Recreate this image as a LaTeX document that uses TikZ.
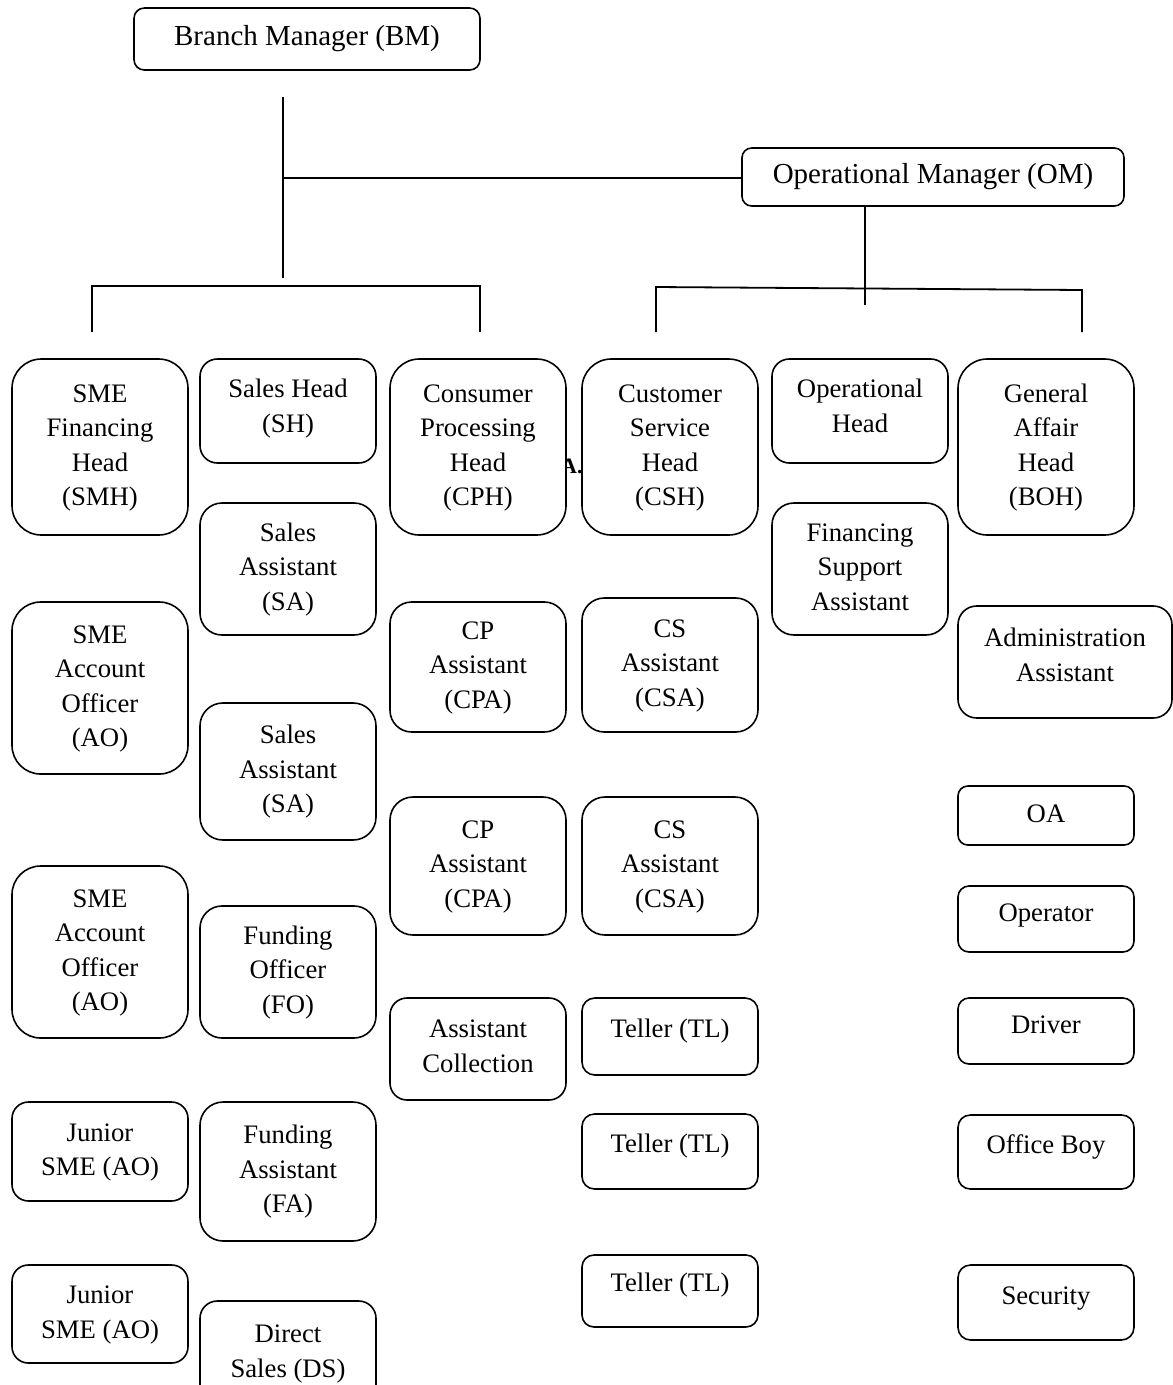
\documentclass[tikz,border=0pt]{standalone}
\usepackage{fontspec}
\setmainfont{Liberation Serif}
\newcommand\ctext[2]{\raisebox{#1}[0pt][0pt]{\raisebox{-.5\height}{\raisebox{\depth}{\begin{tabular}{@{}c@{}}#2\end{tabular}}}}}
\newcommand\orgbox[8][]{%
  \pgfmathsetmacro\obw{#5-#3}%
  \pgfmathsetmacro\obh{#6-#4}%
  \pgfmathsetmacro\obr{min(\obw,\obh)/6}%
  \node[orgnode, minimum width=\obw pt, minimum height=\obh pt, rounded corners=\obr pt, #1] (#2) at ({(#3+#5)/2},{(#4+#6)/2}) {\ctext{#7pt}{#8}};%
}
\begin{document}
\begin{tikzpicture}[x=1pt, y=-1pt,
  orgnode/.style={draw, line width=1.6pt, fill=white, inner sep=0pt, font=\fontsize{26.7}{34.5}\selectfont},
  topfont/.style={font=\fontsize{29}{34}\selectfont},
  conn/.style={line width=1.8pt}]
\useasboundingbox (0,0) rectangle (1173,1385);

% stray text partly hidden behind the boxes
\node[font=\bfseries\fontsize{22}{26}\selectfont, anchor=base west, inner sep=0pt] (artA) at (561,473) {A.};

% top managers
\orgbox[topfont]{bm}{134}{8}{480}{70}{0}{Branch Manager (BM)}
\orgbox[topfont]{om}{742}{148}{1124}{206}{0}{Operational Manager (OM)}

% column 1
\orgbox{smh}{12}{359}{188}{535}{0}{SME\\Financing\\Head\\(SMH)}
\orgbox{ao1}{12}{602}{188}{774}{0}{SME\\Account\\Officer\\(AO)}
\orgbox{ao2}{12}{866}{188}{1038}{0}{SME\\Account\\Officer\\(AO)}
\orgbox{jr1}{12}{1102}{188}{1201}{0}{Junior\\SME (AO)}
\orgbox{jr2}{12}{1265}{188}{1363}{0}{Junior\\SME (AO)}

% column 2
\orgbox{sh}{200}{359}{376}{463}{3}{Sales Head\\(SH)}
\orgbox{sa1}{200}{503}{376}{635}{0}{Sales\\Assistant\\(SA)}
\orgbox{sa2}{200}{703}{376}{840}{0}{Sales\\Assistant\\(SA)}
\orgbox{fo}{200}{906}{376}{1038}{0}{Funding\\Officer\\(FO)}
\orgbox{fa}{200}{1102}{376}{1241}{0}{Funding\\Assistant\\(FA)}
\orgbox{ds}{200}{1301}{376}{1405}{0}{Direct\\Sales (DS)}

% column 3
\orgbox{cph}{390}{359}{566}{535}{0}{Consumer\\Processing\\Head\\(CPH)}
\orgbox{cpa1}{390}{602}{566}{732}{0}{CP\\Assistant\\(CPA)}
\orgbox{cpa2}{390}{797}{566}{935}{0}{CP\\Assistant\\(CPA)}
\orgbox{ac}{390}{998}{566}{1100}{1}{Assistant\\Collection}

% column 4
\orgbox{csh}{582}{359}{758}{535}{0}{Customer\\Service\\Head\\(CSH)}
\orgbox{csa1}{582}{598}{758}{732}{0}{CS\\Assistant\\(CSA)}
\orgbox{csa2}{582}{797}{758}{935}{0}{CS\\Assistant\\(CSA)}
\orgbox{tl1}{582}{998}{758}{1075}{6}{Teller (TL)}
\orgbox{tl2}{582}{1114}{758}{1189}{6}{Teller (TL)}
\orgbox{tl3}{582}{1255}{758}{1327}{6}{Teller (TL)}

% column 5
\orgbox{oh}{772}{359}{948}{463}{3}{Operational\\Head}
\orgbox{fsa}{772}{503}{948}{635}{0}{Financing\\Support\\Assistant}

% column 6
\orgbox{gah}{958}{359}{1134}{535}{0}{General\\Affair\\Head\\(BOH)}
\orgbox{adm}{958}{606}{1172}{718}{5}{Administration\\Assistant}
\orgbox{oa}{958}{786}{1134}{845}{0}{OA}
\orgbox{opr}{958}{886}{1134}{952}{4}{Operator}
\orgbox{drv}{958}{998}{1134}{1064}{4}{Driver}
\orgbox{ob}{958}{1115}{1134}{1189}{5}{Office Boy}
\orgbox{sec}{958}{1265}{1134}{1340}{5}{Security}

% connector points
\coordinate (bmTop) at (283,97);
\coordinate (bmJoin) at (283,178);
\coordinate (bmEnd) at (283,278);
\coordinate (lbL) at (92,332);
\coordinate (lbLt) at (92,286);
\coordinate (lbRt) at (480,286);
\coordinate (lbR) at (480,332);
\coordinate (omEnd) at (865,305);
\coordinate (rbL) at (656,332);
\coordinate (rbLt) at (656,287);
\coordinate (rbRt) at (1082,290);
\coordinate (rbR) at (1082,332);

\draw[conn] (bmTop) -- (bmEnd);
\draw[conn] (bmJoin) -- (bmJoin -| om.west);
\draw[conn] (lbL) -- (lbLt) -- (lbRt) -- (lbR);
\draw[conn] (omEnd |- om.south) -- (omEnd);
\draw[conn] (rbL) -- (rbLt) -- (rbRt) -- (rbR);
\end{tikzpicture}
\end{document}
